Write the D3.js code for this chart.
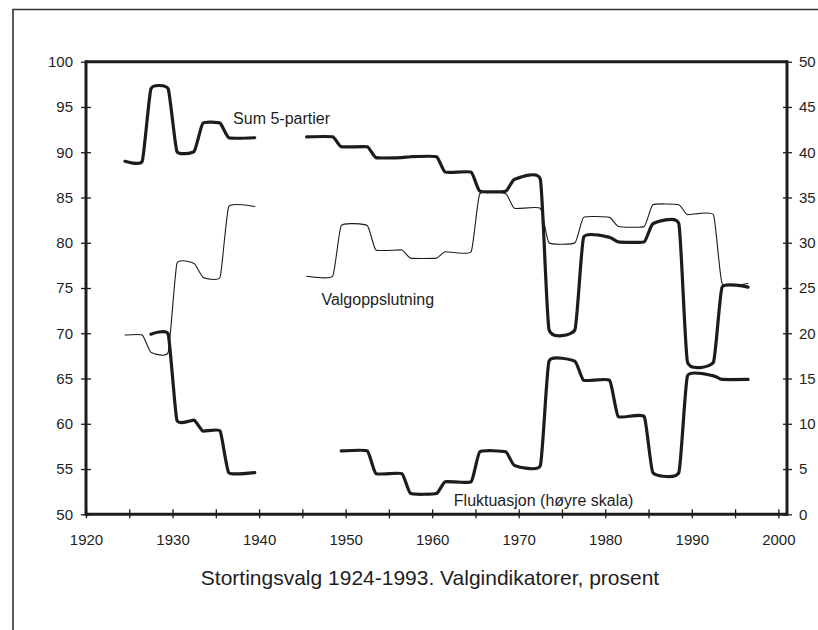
<!DOCTYPE html>
<html>
<head>
<meta charset="utf-8">
<script src="https://cdn.jsdelivr.net/npm/d3@7"></script>
<style>
  html, body { margin: 0; padding: 0; background: #fff; }
  svg { display: block; font-family: "Liberation Sans", Arial, Helvetica, sans-serif; }
</style>
</head>
<body>
<div id="chart"></div>
<script>
// ---- Data ----
// Election years (pre-war and post-war periods); each value holds until the next election
const prewarYears  = [1924, 1927, 1930, 1933, 1936];
const prewarEnd    = 1940;
const postwarYears = [1945, 1949, 1953, 1957, 1961, 1965, 1969, 1973, 1977, 1981, 1985, 1989, 1993];
const postwarEnd   = 1997;

// Sum 5-partier (left scale, %)
const sumPrewar  = [89.0, 97.0, 90.1, 93.2, 91.6];
const sumPostwar = [91.7, 90.6, 89.4, 89.5, 87.8, 85.7, 87.0, 70.4, 80.6, 80.1, 82.1, 66.8, 75.1];

// Valgoppslutning (left scale, %)
const turnoutPrewar  = [69.8, 67.9, 77.7, 76.2, 84.0];
const turnoutPostwar = [76.3, 81.9, 79.2, 78.3, 79.0, 85.4, 83.8, 80.0, 82.8, 81.8, 84.2, 83.1, 75.5];

// Fluktuasjon (right scale, %) - no value for 1924 and 1945
const flukPrewar  = [null, 19.9, 10.4, 9.2, 4.6];
const flukPostwar = [null, 7.0, 4.5, 2.3, 3.6, 6.9, 5.4, 16.9, 14.8, 10.8, 4.6, 15.3, 14.9];

const xTicks      = [1920, 1925, 1930, 1935, 1940, 1945, 1950, 1955, 1960, 1965, 1970, 1975, 1980, 1985, 1990, 1995, 2000];
const xTickLabels = [1920, 1930, 1940, 1950, 1960, 1970, 1980, 1990, 2000];
const leftTicks   = [50, 55, 60, 65, 70, 75, 80, 85, 90, 95, 100];
const rightTicks  = [0, 5, 10, 15, 20, 25, 30, 35, 40, 45, 50];

const labels = {
  sum: "Sum 5-partier",
  turnout: "Valgoppslutning",
  fluk: "Fluktuasjon (høyre skala)",
  title: "Stortingsvalg 1924-1993. Valgindikatorer, prosent"
};

// ---- Layout ----
const W = 818, H = 630;
const pL = 86, pR = 787, pT = 61.7, pB = 514.3;
const ink = "#1c1c1c";

const svg = d3.select("#chart").append("svg").attr("width", W).attr("height", H);

// scanned page frame
svg.append("path")
  .attr("d", `M13,${H} L13,9.5 L${W},9.5`)
  .attr("fill", "none").attr("stroke", "#333").attr("stroke-width", 1.6);

const x = d3.scaleLinear().domain([1920, 2001]).range([pL, pR]);
const yL = d3.scaleLinear().domain([50, 100]).range([pB, pT]);
const yR = d3.scaleLinear().domain([0, 50]).range([pB, pT]);

// build step points: flat from election+0.5 to next election-0.5
function stepPoints(years, endYear, values) {
  const pts = [];
  years.forEach((yr, i) => {
    const v = values[i];
    if (v == null) return;
    const next = i < years.length - 1 ? years[i + 1] : endYear;
    pts.push([yr + 0.5, v]);
    pts.push([next - 0.5, v]);
  });
  return pts;
}

const g = svg.append("g");

function drawSeries(scaleY, width, sets) {
  const line = d3.line()
    .x(d => x(d[0]))
    .y(d => scaleY(d[1]))
    .curve(d3.curveCardinal.tension(0.6));
  sets.forEach(pts => {
    g.append("path")
      .attr("d", line(pts))
      .attr("fill", "none")
      .attr("stroke", ink)
      .attr("stroke-width", width)
      .attr("stroke-linejoin", "round")
      .attr("stroke-linecap", "round");
  });
}

drawSeries(yL, 1.1, [stepPoints(prewarYears, prewarEnd, turnoutPrewar), stepPoints(postwarYears, postwarEnd, turnoutPostwar)]);
drawSeries(yL, 3.2, [stepPoints(prewarYears, prewarEnd, sumPrewar), stepPoints(postwarYears, postwarEnd, sumPostwar)]);
drawSeries(yR, 3.2, [stepPoints(prewarYears, prewarEnd, flukPrewar), stepPoints(postwarYears, postwarEnd, flukPostwar)]);

// ---- Axes ----
const axFont = 15;

const axL = svg.append("g").attr("transform", `translate(${pL},0)`)
  .call(d3.axisLeft(yL).tickValues(leftTicks).tickSize(6).tickPadding(7).tickFormat(d3.format("d")));
const axR = svg.append("g").attr("transform", `translate(${pR},0)`)
  .call(d3.axisRight(yR).tickValues(rightTicks).tickSize(6).tickPadding(6).tickFormat(d3.format("d")));
const axB = svg.append("g").attr("transform", `translate(0,${pB})`)
  .call(d3.axisBottom(x).tickValues(xTicks).tickSize(6).tickPadding(14)
    .tickFormat(d => xTickLabels.includes(d) ? d : ""));

[axL, axR, axB].forEach(a => {
  a.select(".domain").remove();
  a.selectAll("text").attr("font-size", axFont).attr("fill", "#1e1e1e")
    .attr("font-family", "'Liberation Sans', Arial, sans-serif");
  a.selectAll(".tick line").attr("stroke", ink).attr("stroke-width", 1.3);
});
axL.selectAll(".tick line").attr("x1", -5).attr("x2", 5);
axR.selectAll(".tick line").attr("x1", -4).attr("x2", 5);
axB.selectAll(".tick line").attr("y1", -5).attr("y2", 4);

// frame lines (thick)
const frame = svg.append("g").attr("stroke", ink).attr("stroke-width", 3).attr("fill", "none");
frame.append("line").attr("x1", pL).attr("x2", pR).attr("y1", pT).attr("y2", pT);
frame.append("line").attr("x1", pL).attr("x2", pR).attr("y1", pB).attr("y2", pB);
frame.append("line").attr("x1", pL).attr("x2", pL).attr("y1", pT - 1.5).attr("y2", pB + 1.5);
frame.append("line").attr("x1", pR).attr("x2", pR).attr("y1", pT - 1.5).attr("y2", pB + 1.5);

// ---- Labels ----
const lab = svg.append("g").attr("font-size", 16).attr("fill", "#1e1e1e");
lab.append("text").attr("x", x(1937.0)).attr("y", yL(93.8) + 5.7).text(labels.sum);
lab.append("text").attr("x", x(1947.2)).attr("y", yL(73.8) + 5.7).text(labels.turnout);
lab.append("text").attr("x", x(1962.5)).attr("y", yR(1.5) + 5.7).text(labels.fluk);

svg.append("text")
  .attr("x", 430).attr("y", 584.5)
  .attr("text-anchor", "middle")
  .attr("font-size", 21).attr("fill", "#1e1e1e")
  .text(labels.title);
</script>
</body>
</html>
